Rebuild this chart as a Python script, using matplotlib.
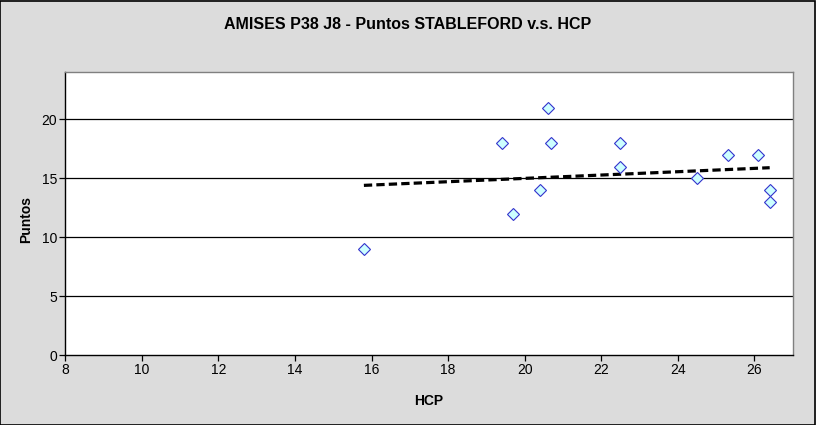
import numpy as np
import matplotlib.pyplot as plt
from matplotlib.patches import Rectangle

# Data
hcp = [15.8, 19.4, 19.7, 20.4, 20.6, 20.7, 22.5, 22.5, 24.5, 25.3, 26.1, 26.4, 26.4]
puntos = [9, 18, 12, 14, 21, 18, 18, 16, 15, 17, 17, 14, 13]
# linear trendline as drawn in the chart (ends)
trend_x = [15.8, 26.4]
trend_y = [14.4, 15.9]
x_ticks = [8, 10, 12, 14, 16, 18, 20, 22, 24, 26]
y_ticks = [0, 5, 10, 15, 20]

plt.rcParams['font.family'] = ['Liberation Sans', 'DejaVu Sans']

fig = plt.figure(figsize=(8.16, 4.25), dpi=100)
fig.patch.set_facecolor('#dcdcdc')
# black frame around the whole chart
fig.patches.append(Rectangle((0.0006, 0.001), 0.998, 0.997, transform=fig.transFigure,
                             fill=False, edgecolor='black', linewidth=1.2))

ax = fig.add_axes([0.080, 0.1647, 0.8914, 0.6652])
ax.set_facecolor('white')

# horizontal grid lines
for y in y_ticks[1:]:
    ax.axhline(y, color='black', linewidth=0.9, zorder=1)

ax.plot(trend_x, trend_y, color='black', linewidth=2.3, dashes=(2.6, 1.3), zorder=2)

ax.plot(hcp, puntos, linestyle='none', marker='D', markersize=6.6,
        markerfacecolor='#ccffff', markeredgecolor='#3333cc', markeredgewidth=0.8, zorder=3)

ax.set_xlim(8, 27)
ax.set_ylim(0, 24)
ax.set_xticks(x_ticks)
ax.set_yticks(y_ticks)
ax.tick_params(direction='out', length=4, width=0.9, labelsize=10, colors='black', pad=2)

ax.spines['left'].set_color('black')
ax.spines['bottom'].set_color('black')
ax.spines['top'].set_color('#808080')
ax.spines['right'].set_color('#808080')
for s in ax.spines.values():
    s.set_linewidth(1.0)

ax.set_xlabel('HCP', fontsize=10, fontweight='bold', labelpad=12)
ax.set_ylabel('Puntos', fontsize=10, fontweight='bold')
ax.yaxis.set_label_coords(-0.044, 0.48)
fig.text(0.5, 0.943, 'AMISES P38 J8 - Puntos STABLEFORD v.s. HCP', ha='center', va='center',
         fontsize=11.5, fontweight='bold')

fig.savefig('out.png', dpi=100, facecolor=fig.get_facecolor())
